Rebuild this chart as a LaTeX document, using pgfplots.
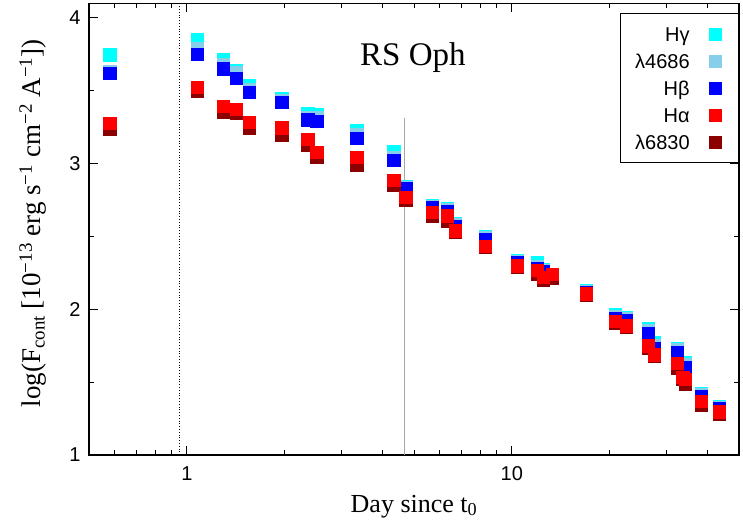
\documentclass[border=0pt]{standalone}
\usepackage{fontspec}
\setmainfont{Liberation Serif}
\newfontfamily\sansf{Liberation Sans}
\usepackage{pgfplots}
\pgfplotsset{compat=1.18}

\definecolor{cHg}{RGB}{0,255,255}
\definecolor{cHe}{RGB}{135,206,235}
\definecolor{cHb}{RGB}{0,0,255}
\definecolor{cHa}{RGB}{255,0,0}
\definecolor{cRa}{RGB}{139,0,0}

\pgfplotsset{
  sq/.style={only marks, mark=square*, mark size=6.3pt, color=#1, forget plot},
  lgsq/.style={legend image code/.code={
    \fill[#1, draw=none] (0pt,-7pt) rectangle (13pt,6pt);
    \path[draw=none] (0pt,0pt) -- (18.5pt,0pt);}},
}

\begin{document}
\begin{tikzpicture}
\begin{axis}[
  scale only axis,
  width=650pt, height=451.7pt,
  xmode=log,
  xmin=0.5, xmax=50,
  ymin=1, ymax=4.1,
  xtick={1,10}, xticklabels={1,10},
  minor xtick={0.6,0.7,0.8,0.9,2,3,4,5,6,7,8,9,20,30,40,50},
  ytick={1,2,3,4}, yticklabels={1,2,3,4},
  minor ytick={1.5,2.5,3.5},
  major tick length=9pt, minor tick length=5pt,
  tick style={black, line width=1pt},
  axis line style={black, line width=1.5pt},
  tick label style={font=\sansf\fontsize{20}{24}\selectfont},
  xticklabel style={yshift=-8pt},
  yticklabel style={xshift=-5pt},
  xlabel={Day since t\textsubscript{0}},
  ylabel={log(F\textsubscript{cont} [10\textsuperscript{−13} erg s\textsuperscript{−1} cm\textsuperscript{−2} A\textsuperscript{−1}])},
  every axis x label/.style={at={(axis description cs:0.5,0)}, anchor=base,
    yshift=-57pt, font=\fontsize{26}{30}\selectfont},
  every axis y label/.style={at={([xshift=-48pt]axis description cs:0,0.513)},
    rotate=90, anchor=base, font=\fontsize{27}{31}\selectfont},
  legend plot pos=right,
  legend cell align=right,
  legend style={at={(1,1)}, anchor=north east, yshift=-9.5pt,
    draw=black, line width=0.7pt, fill=white,
    inner xsep=11.5pt, inner ysep=7pt,
    font=\sansf\fontsize{20}{24}\selectfont,
    column sep=15.5pt,
    nodes={text height=17.5pt, text depth=2.5pt, inner sep=3.5pt}},
]

% marker lines
\addplot[black, dotted, line width=0.8pt, forget plot] coordinates {(0.947,1) (0.947,4.1)};
\addplot[black!35, line width=1.5pt, forget plot] coordinates {(4.67,1) (4.67,3.31)};

% H gamma
\addplot[sq=cHg] coordinates {
  (0.58,3.748) (1.076,3.852) (1.294,3.715) (1.418,3.640) (1.555,3.537)
  (1.955,3.448) (2.35,3.345) (2.506,3.338) (3.33,3.228) (4.33,3.084)
  (4.72,2.843) (5.69,2.713) (6.33,2.693) (6.70,2.590) (8.29,2.500)
  (10.4,2.336) (11.98,2.322) (12.5,2.274) (16.96,2.130) (20.8,1.965)
  (22.5,1.944) (26.3,1.869) (27.4,1.773) (32.3,1.732) (34.2,1.636)
  (38.3,1.423) (43.5,1.334)
};
% lambda 4686
\addplot[sq=cHe] coordinates {
  (0.58,3.634) (1.076,3.793) (1.294,3.683) (1.418,3.628) (1.555,3.509)
  (1.955,3.434) (2.35,3.317) (2.506,3.317) (3.33,3.200) (4.33,3.043)
  (4.72,2.836) (5.69,2.706) (6.33,2.684) (6.70,2.580) (8.29,2.490)
  (10.4,2.330) (11.98,2.294) (12.5,2.266) (16.96,2.122) (20.8,1.951)
  (22.5,1.937) (26.3,1.855) (27.4,1.752) (32.3,1.724) (34.2,1.622)
  (38.3,1.414) (43.5,1.327)
};
% H beta
\addplot[sq=cHb] coordinates {
  (0.58,3.619) (1.076,3.750) (1.294,3.653) (1.418,3.585) (1.555,3.489)
  (1.955,3.420) (2.35,3.303) (2.506,3.290) (3.33,3.173) (4.33,3.022)
  (4.72,2.830) (5.69,2.699) (6.33,2.672) (6.70,2.569) (8.29,2.480)
  (10.4,2.322) (11.98,2.281) (12.5,2.260) (16.96,2.116) (20.8,1.938)
  (22.5,1.924) (26.3,1.835) (27.4,1.732) (32.3,1.704) (34.2,1.602)
  (38.3,1.402) (43.5,1.320)
};
% lambda 6830
\addplot[sq=cRa] coordinates {
  (0.58,3.235) (1.076,3.496) (1.294,3.358) (1.418,3.345) (1.555,3.242)
  (1.955,3.194) (2.35,3.125) (2.506,3.049) (3.33,2.988) (4.33,2.857)
  (4.72,2.754) (5.69,2.644) (6.33,2.610) (6.70,2.528) (8.29,2.425)
  (10.4,2.294) (11.98,2.246) (12.5,2.205) (13.3,2.212) (16.96,2.102)
  (20.8,1.910) (22.5,1.876) (26.3,1.732) (27.4,1.677) (32.3,1.601)
  (33.5,1.519) (34.2,1.485) (38.3,1.347) (43.5,1.285)
};
% H alpha
\addplot[sq=cHa] coordinates {
  (0.58,3.276) (1.076,3.523) (1.294,3.393) (1.418,3.372) (1.555,3.283)
  (1.955,3.248) (2.35,3.166) (2.506,3.077) (3.33,3.043) (4.33,2.885)
  (4.72,2.768) (5.69,2.665) (6.33,2.644) (6.70,2.541) (8.29,2.434)
  (10.4,2.301) (11.98,2.267) (12.5,2.219) (13.3,2.240) (16.96,2.107)
  (20.8,1.917) (22.5,1.889) (26.3,1.752) (27.4,1.690) (32.3,1.629)
  (33.5,1.533) (34.2,1.519) (38.3,1.368) (43.5,1.299)
};

\addlegendimage{lgsq=cHg}\addlegendentry{Hγ}
\addlegendimage{lgsq=cHe}\addlegendentry{λ4686}
\addlegendimage{lgsq=cHb}\addlegendentry{Hβ}
\addlegendimage{lgsq=cHa}\addlegendentry{Hα}
\addlegendimage{lgsq=cRa}\addlegendentry{λ6830}

\node[anchor=base, font=\fontsize{33}{38}\selectfont] at (axis cs:4.96,3.671) {RS Oph};
\end{axis}
\pgfresetboundingbox
\path[use as bounding box] (-89pt,-69pt) rectangle (654pt,455pt);
\end{tikzpicture}
\end{document}
